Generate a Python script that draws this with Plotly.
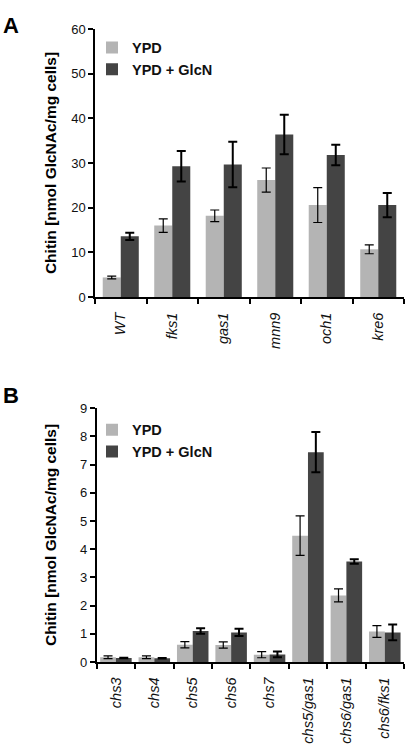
import plotly.graph_objects as go

# ---------------- data ----------------
cats_a = ["WT", "fks1", "gas1", "mnn9", "och1", "kre6"]
ypd_a = [4.4, 16.0, 18.2, 26.2, 20.6, 10.7]
ypd_a_err = [0.3, 1.5, 1.3, 2.7, 3.9, 1.0]
glcn_a = [13.6, 29.3, 29.7, 36.4, 31.8, 20.6]
glcn_a_err = [0.8, 3.4, 5.1, 4.4, 2.3, 2.7]

cats_b = ["chs3", "chs4", "chs5", "chs6", "chs7", "chs5/gas1", "chs6/gas1", "chs6/fks1"]
ypd_b = [0.17, 0.17, 0.61, 0.60, 0.26, 4.48, 2.36, 1.08]
ypd_b_err = [0.05, 0.05, 0.11, 0.11, 0.11, 0.70, 0.23, 0.21]
glcn_b = [0.14, 0.13, 1.10, 1.05, 0.27, 7.44, 3.56, 1.05]
glcn_b_err = [0.01, 0.01, 0.10, 0.13, 0.10, 0.71, 0.08, 0.28]

series_names = ["YPD", "YPD + GlcN"]
title_y = "Chitin [nmol GlcNAc/mg cells]"

LIGHT = "#b4b4b4"
DARK = "#444444"
FONT_R = "Liberation Sans, Arial, sans-serif"

W, H = 406, 753

fig = go.Figure()

def add_pair(cats, y1, e1, y2, e2, xa, ya, leg, bw):
    fig.add_trace(go.Bar(
        x=cats, y=y1, name=series_names[0], marker=dict(color=LIGHT, line=dict(width=0)),
        error_y=dict(type="data", array=e1, color="black", thickness=1.2, width=4.5),
        xaxis=xa, yaxis=ya, legend=leg, offset=-bw, width=bw))
    fig.add_trace(go.Bar(
        x=cats, y=y2, name=series_names[1], marker=dict(color=DARK, line=dict(width=0)),
        error_y=dict(type="data", array=e2, color="black", thickness=2, width=4.5),
        xaxis=xa, yaxis=ya, legend=leg, offset=0, width=bw))

add_pair(cats_a, ypd_a, ypd_a_err, glcn_a, glcn_a_err, "x", "y", "legend", 0.35)
add_pair(cats_b, ypd_b, ypd_b_err, glcn_b, glcn_b_err, "x2", "y2", "legend2", 0.41)

def px_x(p):
    return p / W

def px_y(p):
    return 1 - p / H

tickfont = dict(family=FONT_R, size=13, color="#111")
xtickfont = dict(family=FONT_R, size=14.5, color="#111", style="italic")

common_x = dict(type="category", showline=True, linecolor="black", linewidth=1.5,
                ticks="outside", ticklen=5, tickwidth=1.5, tickcolor="black",
                tickson="boundaries", tickangle=-90, tickfont=xtickfont,
                ticklabelstandoff=8, showgrid=False, zeroline=False, fixedrange=True)
common_y = dict(showline=True, linecolor="black", linewidth=1.5, ticks="outside",
                ticklen=5, tickwidth=1.5, tickcolor="black", tickfont=tickfont,
                showgrid=False, zeroline=False, fixedrange=True)

fig.update_layout(
    width=W, height=H,
    margin=dict(l=0, r=0, t=0, b=0),
    paper_bgcolor="white", plot_bgcolor="white",
    barmode="group",
    showlegend=True,
    xaxis=dict(domain=[px_x(95), px_x(404)], anchor="y", range=[-0.5, 5.5], **common_x),
    yaxis=dict(domain=[px_y(296), px_y(22.5)], anchor="x", range=[0, 60], dtick=10, **common_y),
    xaxis2=dict(domain=[px_x(96.7), px_x(404)], anchor="y2", range=[-0.5, 7.5], **common_x),
    yaxis2=dict(domain=[px_y(668.3), px_y(409.3)], anchor="x2", range=[0, 9], dtick=1, **common_y),
    legend=dict(x=px_x(92), y=px_y(25), xanchor="left", yanchor="top",
                font=dict(family=FONT_R, size=14.5, color="#111", weight="bold"),
                bgcolor="rgba(0,0,0,0)", borderwidth=0, tracegroupgap=0),
    legend2=dict(x=px_x(92), y=px_y(415), xanchor="left", yanchor="top",
                 font=dict(family=FONT_R, size=14.5, color="#111", weight="bold"),
                 bgcolor="rgba(0,0,0,0)", borderwidth=0, tracegroupgap=0),
)

annots = [
    dict(text="A", x=px_x(1), y=px_y(4), xanchor="left", yanchor="top"),
    dict(text="B", x=px_x(1), y=px_y(382), xanchor="left", yanchor="top"),
]
for a in annots:
    fig.add_annotation(xref="paper", yref="paper", showarrow=False,
                       font=dict(family=FONT_R, size=22, color="black", weight="bold"), **a)

for yc in [(22.5 + 296) / 2, (409.3 + 668.3) / 2]:
    fig.add_annotation(xref="paper", yref="paper", x=px_x(50), y=px_y(yc),
                       text=title_y, textangle=-90, showarrow=False,
                       xanchor="center", yanchor="middle",
                       font=dict(family=FONT_R, size=15.5, color="black", weight="bold"))

fig.write_html("out.html", config={"displayModeBar": False},
               post_script="document.body.style.margin='0px';document.body.style.overflow='hidden';")
